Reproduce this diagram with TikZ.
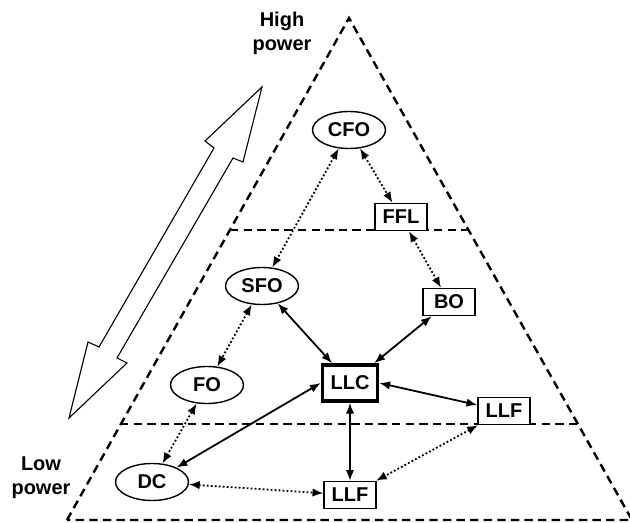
\documentclass[tikz,border=0pt]{standalone}
\usepackage{fontspec}
\setmainfont{Liberation Sans}
\usetikzlibrary{shapes.geometric,arrows.meta}
\tikzset{
  ovalo/.style={draw, ellipse, line width=0.7pt, fill=white, inner sep=0pt, minimum width=36.5pt, minimum height=18.5pt, font=\bfseries},
  caja/.style={draw, rectangle, line width=0.7pt, fill=white, inner sep=0pt, minimum width=26pt, minimum height=13.5pt, font=\bfseries},
  cajagruesa/.style={caja, line width=1.8pt, minimum width=27.5pt, minimum height=18pt},
  flecha/.style={{Latex[length=5.4pt,width=4.2pt]}-{Latex[length=5.4pt,width=4.2pt]}, line width=0.9pt},
  flechapunto/.style={flecha, dash pattern=on 0.9pt off 1.1pt},
  nivel/.style={line width=1.2pt, dash pattern=on 4.2pt off 2.6pt},
  etiqueta/.style={align=center, font=\bfseries}
}
\begin{document}
\begin{tikzpicture}[x=0.5pt, y=-0.5pt, font=\fontsize{10.5}{12.5}\selectfont]
  \useasboundingbox (0,0) rectangle (630,523);
  % piramide
  \draw[nivel] (67,520) -- (349,18) -- (632,520) -- cycle;
  \draw[nivel] (230,230) -- (468,230);
  \draw[nivel] (120,424) -- (578,424);
  % flecha hueca
  \draw[line width=0.55pt] (262,87) -- (243,162) -- (233,158) -- (117,358) -- (127,363)
    -- (69,418) -- (88,342) -- (99,347) -- (214,148) -- (205,141) -- cycle;
  \node[etiqueta] (alta) at (282,33) {High\\power};
  \node[etiqueta] (baja) at (41,478) {Low\\power};
  % nodos
  \node[ovalo] (CFO) at (349,130) {CFO};
  \node[caja] (FFL) at (401,217) {FFL};
  \node[ovalo] (SFO) at (262,286) {SFO};
  \node[caja] (BO) at (449,302) {BO};
  \node[cajagruesa] (LLC) at (350,383) {LLC};
  \node[ovalo] (FO) at (207,385) {FO};
  \node[caja] (LLFa) at (504,411) {LLF};
  \node[ovalo] (DC) at (152,482) {DC};
  \node[caja] (LLFb) at (350,495) {LLF};
  % enlaces
  \foreach \a/\b in {CFO/SFO, CFO/FFL, FFL/BO, SFO/FO, FO/DC, LLFa/LLFb, DC/LLFb}
    \draw[flechapunto] (\a) -- (\b);
  \draw[flecha] (SFO) -- (LLC);
  \draw[flecha] (BO) -- (LLC);
  \draw[flecha] (LLC.east) -- (LLFa);
  \draw[flecha] (LLC.west) -- (DC);
  \draw[flecha] (LLC) -- (LLFb);
\end{tikzpicture}
\end{document}
